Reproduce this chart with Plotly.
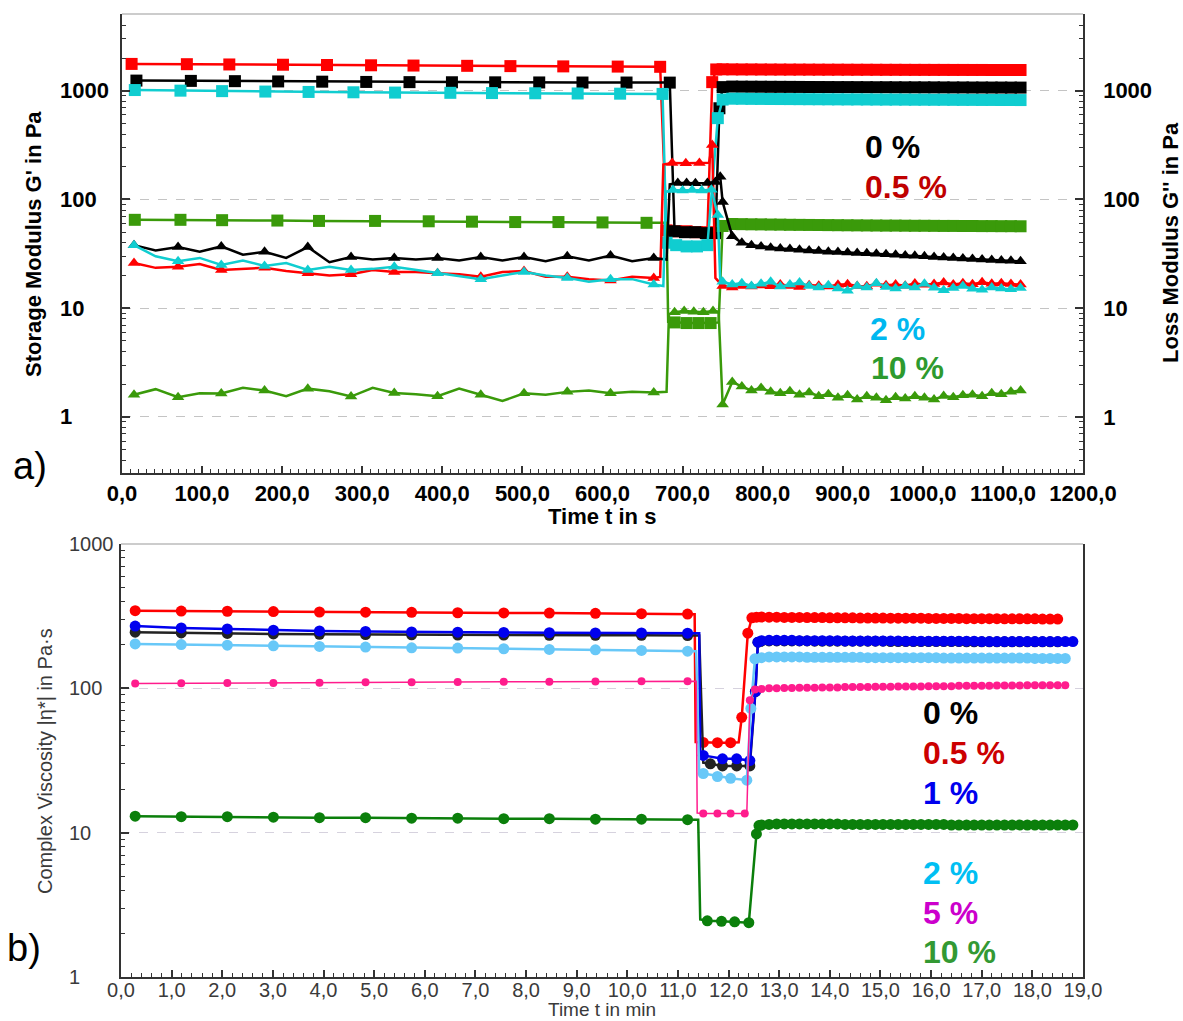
import math
import plotly.graph_objects as go

W, H = 1183, 1021
FONT = "Liberation Sans"

# ============ a) oscillatory time sweep: G' (squares) and G'' (triangles), time in s
REC_T0, REC_DT = 750, 12          # sampling of the recovery interval (s)

# ---- G' storage modulus ------------------------------------------------------
GP0_T = [18, 86, 141, 195, 250, 305, 359, 412, 466, 521, 575, 630, 684, 690, 703, 716, 729, 741, 746]
GP0_V = [1240, 1232, 1225, 1218, 1212, 1205, 1200, 1197, 1195, 1192, 1190, 1190, 1188, 51, 50, 50, 49, 49, 690]
GP0_BT, GP0_BV = [], []
GP0_REC = [1080, 1092, 1090, 1089, 1088, 1087, 1086, 1085, 1084, 1083, 1082, 1081, 1080, 1080, 1079, 1078,
           1077, 1077, 1076, 1075, 1075, 1074, 1074, 1073, 1072, 1072, 1071, 1071, 1070, 1070, 1069, 1069]

GP05_T = [12, 81, 134, 201, 256, 311, 364, 431, 485, 551, 619, 672, 680, 692, 705, 718, 731, 737, 742]
GP05_V = [1765, 1755, 1745, 1735, 1725, 1715, 1705, 1695, 1685, 1675, 1668, 1660, 52, 51, 51, 50, 50, 1200, 1570]
GP05_BT, GP05_BV = [], []
GP05_REC = [1575, 1572, 1570, 1570, 1568, 1567, 1566, 1565, 1565, 1564, 1563, 1562, 1562, 1561, 1560, 1560,
            1559, 1558, 1558, 1557, 1556, 1556, 1555, 1555, 1554, 1554, 1553, 1553, 1552, 1552, 1551, 1551]

GP2_T = [16, 73, 125, 179, 233, 289, 341, 410, 462, 516, 569, 622, 675, 680, 692, 705, 718, 731, 744]
GP2_V = [1015, 1002, 992, 983, 975, 968, 962, 957, 952, 948, 944, 940, 935, 40, 38, 37, 37, 38, 560]
GP2_BT, GP2_BV = [], []
GP2_REC = [830, 845, 844, 842, 841, 840, 839, 838, 837, 836, 835, 834, 833, 832, 832, 831,
           830, 829, 829, 828, 827, 827, 826, 826, 825, 824, 824, 823, 823, 822, 822, 821]

GP10_T = [16, 73, 125, 194, 246, 316, 383, 437, 491, 545, 600, 655, 690, 705, 720, 735]
GP10_V = [65, 65, 64.5, 64, 63.5, 63.5, 63, 62.5, 62, 62, 61.5, 61, 7.4, 7.3, 7.3, 7.3]
GP10_BT = [680, 682, 745]
GP10_BV = [61, 7.5, 7.4]
GP10_REC = [57, 59.5, 59.3, 59.1, 59, 58.8, 58.7, 58.5, 58.4, 58.3, 58.2, 58.1, 58, 57.9, 57.8, 57.7,
            57.6, 57.5, 57.5, 57.4, 57.3, 57.3, 57.2, 57.1, 57.1, 57, 57, 56.9, 56.9, 56.8, 56.8, 56.7]

# ---- G'' loss modulus --------------------------------------------------------
GPP_MT = [15, 70, 124, 178, 232, 286, 340, 394, 448, 502, 556, 610, 664]      # triangle positions, rest
GPP_BT = [42, 97, 151, 205, 259, 313, 367, 421, 475, 529, 583, 637]           # readings between triangles

GPP0_T = GPP_MT + [694, 705, 716, 731, 741, 747]
GPP0_V = [38, 36.5, 37, 33, 36.5, 29.5, 29, 29, 29.5, 29.5, 30, 30.5, 29, 142, 142, 141, 142, 145, 162]
GPP0_BT = GPP_BT + [680, 684]
GPP0_BV = [34, 33, 31, 29, 26.5, 28, 28, 27.5, 27.5, 27, 27.5, 27, 28, 138]
GPP0_REC = [95, 46, 40, 38, 37, 36, 35.5, 35, 34.5, 34, 33.5, 33, 32.8, 32.5, 32.2, 32,
            31.6, 31.3, 31, 30.6, 30.3, 30, 29.6, 29.3, 29, 28.7, 28.4, 28.1, 27.8, 27.5, 27.3, 27]

GPP05_T = GPP_MT + [687, 704, 721, 737]
GPP05_V = [26, 24, 22.5, 23.5, 21, 20.5, 21.5, 21, 19.5, 22, 19.5, 18, 19, 217, 215, 217, 317]
GPP05_BT = GPP_BT + [672, 676, 733, 741]
GPP05_BV = [23.5, 25.5, 23, 22, 20, 22.5, 21.5, 20.5, 21.5, 19.5, 18.5, 19.5, 19.4, 210, 218, 19]
GPP05_REC = [16, 15.5, 16, 15.8, 16.2, 15.9, 16.5, 16, 15.7, 16.3, 16.1, 15.8, 16.4, 16.6, 16, 15.9,
             16.8, 16.3, 16.5, 16.1, 16.9, 16.4, 16.7, 17.2, 16.5, 17, 16.6, 17.3, 16.8, 17, 16.7, 16.5]

GPP2_T = GPP_MT + [688, 700, 712, 724, 736, 744]
GPP2_V = [38, 27, 25, 24.5, 22.5, 22.5, 24, 21, 18.5, 21.5, 19, 18.5, 16.5, 122, 121, 122, 121, 123, 72]
GPP2_BT = GPP_BT + [676, 679, 747]
GPP2_BV = [30, 29, 27.5, 26, 24, 23, 22.5, 19.5, 20, 20, 17.5, 18.5, 16, 118, 18]
GPP2_REC = [17.5, 16.5, 17, 16, 16.8, 17.5, 15.8, 16.5, 17.2, 16, 15.5, 16.3, 15.2, 14.5, 16, 15.5,
            17, 15.7, 15.2, 16, 15.5, 16.8, 15.4, 14.6, 15.3, 16, 15.1, 14.8, 15.5, 15.2, 14.9, 15.3]

GPP10_T = GPP_MT + [690, 702, 714, 726, 738]
GPP10_V = [1.6, 1.52, 1.64, 1.75, 1.82, 1.54, 1.66, 1.55, 1.6, 1.65, 1.7, 1.65, 1.68, 9.2, 9.4, 9.3, 9.2, 9.4]
GPP10_BT = GPP_BT + [680, 683, 745]
GPP10_BV = [1.8, 1.65, 1.85, 1.55, 1.72, 1.85, 1.62, 1.82, 1.4, 1.6, 1.75, 1.7, 1.7, 8.8, 9.3]
GPP10_REC = [1.3, 2.1, 1.9, 1.75, 1.85, 1.7, 1.65, 1.72, 1.6, 1.68, 1.55, 1.62, 1.5, 1.58, 1.45, 1.55,
             1.5, 1.42, 1.52, 1.48, 1.55, 1.5, 1.45, 1.56, 1.52, 1.58, 1.6, 1.55, 1.65, 1.62, 1.7, 1.75]

# ============ b) complex viscosity |eta*|, time in min
ETA_T1 = [0.28, 1.19, 2.1, 3.01, 3.92, 4.83, 5.74, 6.65, 7.56, 8.46, 9.37, 10.28, 11.19]
ETA_T0, ETA_DT = 12.65, 0.15       # sampling of the recovery interval (min)

ETA0_T = ETA_T1 + [11.64, 11.88, 12.16, 12.42, 12.53, 12.58]
ETA0_V = [245, 242, 240, 238, 237, 236, 235, 234, 234, 233, 233, 233, 232, 30, 29, 29, 29, 95, 209]
ETA0_BT, ETA0_BV = [11.42, 11.5], [232, 30.5]
ETA0_REC = [212, 213, 213, 213, 213, 213, 213, 212, 212, 212, 212, 212, 212, 212, 212, 212, 212, 211, 211, 211,
            211, 211, 211, 211, 211, 211, 211, 210, 210, 210, 210, 210, 210, 210, 210, 210, 210, 210, 210, 210]

ETA05_T = ETA_T1 + [11.5, 11.78, 12.04, 12.26, 12.38, 12.46, 12.55]
ETA05_V = [345, 343, 342, 340, 338, 337, 336, 334, 333, 332, 331, 329, 327, 42.2, 42, 42, 63, 241, 308, 311]
ETA05_BT, ETA05_BV = [11.33, 11.35, 12.2], [326, 42.5, 42.3]
ETA05_REC = [312, 311, 311, 310, 310, 310, 309, 309, 309, 308, 308, 308, 308, 307, 307, 307, 307, 306, 306, 306,
             306, 306, 305, 305, 305, 305, 305, 304, 304, 304, 304, 304, 303, 303, 303, 303, 303, 302, 302, 302]

ETA1_T = ETA_T1 + [11.5, 11.88, 12.16, 12.42, 12.53, 12.58]
ETA1_V = [270, 262, 258, 253, 250, 248, 246, 245, 244, 243, 242, 242, 241, 34.3, 32.5, 32.5, 31.6, 95, 209]
ETA1_BT, ETA1_BV = [11.42, 11.44], [241, 35]
ETA1_REC = [214, 215, 215, 215, 215, 214, 214, 214, 214, 214, 214, 213, 213, 213, 213, 213, 213, 213, 213, 212, 212,
            212, 212, 212, 212, 212, 212, 212, 212, 211, 211, 211, 211, 211, 211, 211, 211, 211, 211, 211, 211, 211]

ETA2_T = ETA_T1 + [11.5, 11.78, 12.04, 12.36, 12.44, 12.52]
ETA2_V = [203, 201, 199, 197, 195, 193, 191, 190, 188, 186, 185, 183, 181, 25.7, 24.5, 23.8, 23.1, 72.6, 160]
ETA2_BT, ETA2_BV = [11.36, 11.42], [181, 26]
ETA2_REC = [163, 165, 165, 165, 165, 165, 164, 164, 164, 164, 164, 164, 164, 164, 163, 163, 163, 163, 163, 163, 163,
            163, 163, 163, 162, 162, 162, 162, 162, 162, 162, 162, 162, 162, 162, 162, 161, 161, 161, 161, 161]

ETA5_T = ETA_T1 + [11.5, 11.78, 12.04, 12.32, 12.42, 12.52]
ETA5_V = [108, 108.5, 109, 109, 109.5, 110, 110, 110.5, 111, 111, 111.5, 112, 112, 13.6, 13.6, 13.6, 13.6, 82.6, 98]
ETA5_BT, ETA5_BV = [11.36, 11.38, 12.36], [112, 13.7, 13.6]
ETA5_REC = [99, 100, 100, 100.5, 100.5, 101, 101, 101, 101.5, 101.5, 101.5, 102, 102, 102, 102, 102.5, 102.5, 102.5,
            103, 103, 103, 103, 103.5, 103.5, 103.5, 103.5, 104, 104, 104, 104, 104, 104.5, 104.5, 104.5, 104.5,
            105, 105, 105, 105, 105, 105]

ETA10_T = ETA_T1 + [11.58, 11.86, 12.12, 12.4, 12.55, 12.6]
ETA10_V = [13.0, 12.9, 12.9, 12.8, 12.7, 12.7, 12.6, 12.6, 12.5, 12.5, 12.4, 12.4, 12.3, 2.45, 2.43, 2.41, 2.38, 9.8, 11.2]
ETA10_BT, ETA10_BV = [11.4, 11.44], [12.3, 2.5]
ETA10_REC = [11.3, 11.4, 11.5, 11.5, 11.5, 11.5, 11.5, 11.5, 11.5, 11.5, 11.5, 11.4, 11.4, 11.4, 11.4, 11.4, 11.4,
             11.4, 11.4, 11.4, 11.4, 11.4, 11.4, 11.4, 11.4, 11.3, 11.3, 11.3, 11.3, 11.3, 11.3, 11.3, 11.3, 11.3,
             11.3, 11.3, 11.3, 11.3, 11.3, 11.3, 11.3, 11.3]

TICK_VALUES = [1, 10, 100, 1000]
TICK_TEXT = ["1", "10", "100", "1000"]


def px_x(x):
    return x / W


def px_y(y):
    return 1 - y / H


def assemble(mt, mv, bt, bv, rec, t0, dt, size):
    """Merge marker points, plain line corners and the regularly sampled recovery part."""
    pts = [(t, v, size) for t, v in zip(mt, mv)]
    pts += [(t, v, 0) for t, v in zip(bt, bv)]
    pts += [(t0 + dt * i, v, size) for i, v in enumerate(rec)]
    pts.sort(key=lambda p: p[0])
    return [p[0] for p in pts], [p[1] for p in pts], [p[2] for p in pts]


fig = go.Figure()


def add_series(mt, mv, bt, bv, rec, t0, dt, color, symbol, size, width, xa, ya):
    x, y, s = assemble(mt, mv, bt, bv, rec, t0, dt, size)
    fig.add_trace(go.Scatter(
        x=x, y=y, mode="lines+markers", xaxis=xa, yaxis=ya,
        line=dict(color=color, width=width),
        marker=dict(symbol=symbol, size=s, color=color, opacity=1, line=dict(width=0)),
        hoverinfo="x+y"))


# panel a) colours
C_RED, C_BLACK, C_CYAN, C_GREEN = "#ff0000", "#000000", "#10cdd0", "#3a9a0a"

# G'' (triangles, right axis)
for T, V, BT, BV, REC, col in [
        (GPP05_T, GPP05_V, GPP05_BT, GPP05_BV, GPP05_REC, C_RED),
        (GPP0_T, GPP0_V, GPP0_BT, GPP0_BV, GPP0_REC, C_BLACK),
        (GPP2_T, GPP2_V, GPP2_BT, GPP2_BV, GPP2_REC, C_CYAN),
        (GPP10_T, GPP10_V, GPP10_BT, GPP10_BV, GPP10_REC, C_GREEN)]:
    add_series(T, V, BT, BV, REC, REC_T0, REC_DT, col, "triangle-up", 11, 2.5, "x", "y2")

# G' (squares, left axis)
for T, V, BT, BV, REC, col in [
        (GP05_T, GP05_V, GP05_BT, GP05_BV, GP05_REC, C_RED),
        (GP0_T, GP0_V, GP0_BT, GP0_BV, GP0_REC, C_BLACK),
        (GP2_T, GP2_V, GP2_BT, GP2_BV, GP2_REC, C_CYAN),
        (GP10_T, GP10_V, GP10_BT, GP10_BV, GP10_REC, C_GREEN)]:
    add_series(T, V, BT, BV, REC, REC_T0, REC_DT, col, "square", 12, 2.5, "x", "y")

# panel b) complex viscosity
for T, V, BT, BV, REC, col, size, width in [
        (ETA05_T, ETA05_V, ETA05_BT, ETA05_BV, ETA05_REC, "#ff0000", 11, 2.5),
        (ETA0_T, ETA0_V, ETA0_BT, ETA0_BV, ETA0_REC, "#222222", 11, 2.5),
        (ETA1_T, ETA1_V, ETA1_BT, ETA1_BV, ETA1_REC, "#0000ee", 11, 2.5),
        (ETA2_T, ETA2_V, ETA2_BT, ETA2_BV, ETA2_REC, "#68c8f8", 11, 2.5),
        (ETA5_T, ETA5_V, ETA5_BT, ETA5_BV, ETA5_REC, "#ff1c8d", 8, 1.5),
        (ETA10_T, ETA10_V, ETA10_BT, ETA10_BV, ETA10_REC, "#0b7f0b", 11, 2.5)]:
    add_series(T, V, BT, BV, REC, ETA_T0, ETA_DT, col, "circle", size, width, "x2", "y3")

# ---------------------------------------------------------------- axes
AX = "#333333"
LOG_MINOR_A = [0.4, 0.5, 0.6, 0.7, 0.8, 0.9] + [m * 10 ** e for e in range(0, 3) for m in range(2, 10)] + [2000, 3000, 4000, 5000]
LOG_MINOR_B = [m * 10 ** e for e in range(0, 3) for m in range(2, 10)]
bold22 = dict(family=FONT, size=22, color="black", weight="bold")
reg20 = dict(family=FONT, size=20, color="#3a3a3a")

ya_range = [math.log10(0.305), math.log10(5080)]

fig.update_layout(
    width=W, height=H, margin=dict(l=0, r=0, t=0, b=0, autoexpand=False),
    paper_bgcolor="white", plot_bgcolor="white", showlegend=False,
    separators=", ",
    xaxis=dict(domain=[px_x(122), px_x(1083)], anchor="y", range=[0, 1200], automargin=False,
               tick0=0, dtick=100, tickformat=".1f", ticks="inside", ticklen=7, tickwidth=1.5,
               tickcolor=AX, showline=True, linecolor=AX, linewidth=1.5, showgrid=False,
               zeroline=False, tickfont=bold22, ticklabelstandoff=0,
               minor=dict(dtick=10, ticks="inside", ticklen=4, tickwidth=1, tickcolor=AX, showgrid=False)),
    yaxis=dict(domain=[px_y(473), px_y(14)], anchor="x", type="log", range=ya_range, automargin=False,
               tickmode="array", tickvals=TICK_VALUES, showticklabels=False,
               ticks="inside", ticklen=8, tickwidth=1.5, tickcolor=AX,
               showline=True, linecolor=AX, linewidth=1.5, zeroline=False,
               showgrid=True, gridcolor="#c4c4c4", griddash="dash", gridwidth=1,
               minor=dict(tickmode="array", tickvals=LOG_MINOR_A, ticks="inside", ticklen=4,
                          tickwidth=1, tickcolor=AX, showgrid=False)),
    yaxis2=dict(overlaying="y", anchor="x", side="right", type="log", range=ya_range, automargin=False,
                tickmode="array", tickvals=TICK_VALUES, ticktext=TICK_TEXT,
                ticks="inside", ticklen=8, tickwidth=1.5, tickcolor=AX,
                showline=True, linecolor=AX, linewidth=1.5, showgrid=False, zeroline=False,
                tickfont=bold22, ticklabelstandoff=14,
                minor=dict(tickmode="array", tickvals=LOG_MINOR_A, ticks="inside", ticklen=4,
                           tickwidth=1, tickcolor=AX, showgrid=False)),
    xaxis2=dict(domain=[px_x(121), px_x(1083)], anchor="y3", range=[0, 19], automargin=False,
                tick0=0, dtick=1, tickformat=".1f", ticks="inside", ticklen=7, tickwidth=1.5,
                tickcolor=AX, showline=True, linecolor=AX, linewidth=1.5, showgrid=False,
                zeroline=False, tickfont=reg20, ticklabelstandoff=-6,
                minor=dict(dtick=0.2, ticks="inside", ticklen=4, tickwidth=1, tickcolor=AX, showgrid=False)),
    yaxis3=dict(domain=[px_y(977), px_y(544)], anchor="x2", type="log", range=[0, 3], automargin=False,
                tickmode="array", tickvals=TICK_VALUES, showticklabels=False,
                ticks="inside", ticklen=8, tickwidth=1.5, tickcolor=AX,
                showline=True, mirror=True, linecolor=AX, linewidth=1.5, zeroline=False,
                showgrid=True, gridcolor="#d6d2de", griddash="dash", gridwidth=1,
                minor=dict(tickmode="array", tickvals=LOG_MINOR_B, ticks="inside", ticklen=4,
                           tickwidth=1, tickcolor=AX, showgrid=False)),
)

# thin grey frame on top of both panels
for y_top, x0, x1 in [(14, 122, 1083), (544, 121, 1083)]:
    fig.add_shape(type="line", xref="paper", yref="paper",
                  x0=px_x(x0), x1=px_x(x1), y0=px_y(y_top), y1=px_y(y_top),
                  line=dict(color="#9a9a9a", width=1.2))

ann = []

# left tick labels (left aligned)
for v, t in zip(TICK_VALUES, TICK_TEXT):
    ann.append(dict(x=px_x(58), xref="paper", y=math.log10(v), yref="y", text=t, showarrow=False,
                    xanchor="left", yanchor="middle", font=bold22))
    ann.append(dict(x=px_x(67), xref="paper", y=math.log10(v), yref="y3", text=t, showarrow=False,
                    xanchor="left", yanchor="middle", font=reg20))


def label(x, y, text, font, angle=0, xanchor="center"):
    ann.append(dict(x=px_x(x), y=px_y(y), xref="paper", yref="paper", text=text, showarrow=False,
                    xanchor=xanchor, yanchor="middle", textangle=angle, font=font))


# axis titles
label(34, 244, "Storage Modulus G' in Pa", bold22, -90)
label(1170, 243, "Loss Modulus G'' in Pa", bold22, -90)
label(602, 516, "Time t in s", bold22)
label(45, 761, "Complex Viscosity |η*| in Pa·s", reg20, -90)
label(602, 1009, "Time t in min", dict(family=FONT, size=19, color="#3a3a3a"))

# panel letters
label(30, 466, "a)", dict(family=FONT, size=38, color="black"))
label(24, 948, "b)", dict(family=FONT, size=38, color="black"))

# concentration labels
def conc(x, y, text, color):
    label(x, y, text, dict(family=FONT, size=32, color=color, weight="bold"), 0, "left")


conc(863, 147, "0 %", "#000000")
conc(863, 187, "0.5 %", "#c00000")
conc(868, 329, "2 %", "#00b8f0")
conc(869, 368, "10 %", "#2e9a2e")

conc(921, 713, "0 %", "#000000")
conc(921, 753, "0.5 %", "#cc0000")
conc(921, 793, "1 %", "#0000ee")
conc(921, 873, "2 %", "#00bff3")
conc(921, 913, "5 %", "#cc00cc")
conc(921, 952, "10 %", "#339933")

fig.update_layout(annotations=ann)
fig.write_html("out.html")
